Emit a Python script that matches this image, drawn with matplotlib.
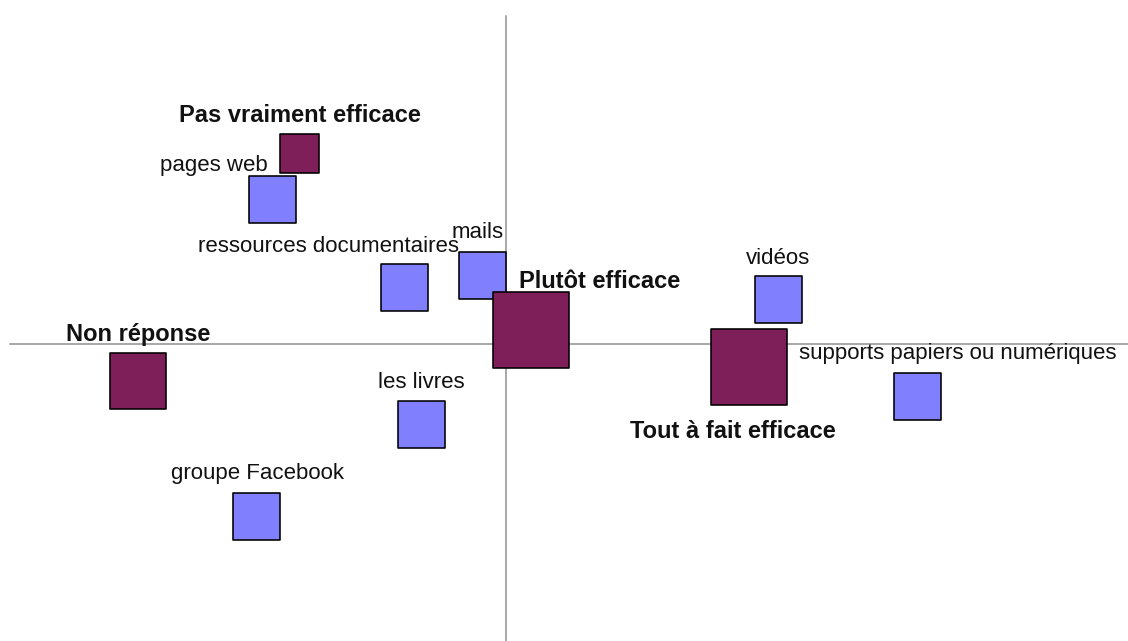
import matplotlib
matplotlib.use("Agg")
import matplotlib.pyplot as plt

plt.rcParams['font.family'] = ['Liberation Sans', 'DejaVu Sans']

# Column categories (modalities of efficacy) - dark squares
col_labels = ["Pas vraiment efficace", "Plutôt efficace", "Tout à fait efficace", "Non réponse"]
col_x = [-0.515, 0.0625, 0.6075, -0.92]
col_y = [0.4775, 0.035, -0.0575, -0.0925]
col_size_px = [39, 76, 76, 56]

# Row categories (resources) - blue squares
row_labels = ["pages web", "ressources documentaires", "mails", "vidéos",
              "supports papiers ou numériques", "les livres", "groupe Facebook"]
row_x = [-0.5825, -0.2525, -0.0575, 0.68, 1.0275, -0.21, -0.6225]
row_y = [0.3625, 0.1425, 0.1725, 0.1125, -0.13, -0.2, -0.43]
row_size_px = [47, 47, 47, 47, 47, 47, 47]

# label offsets in pixels (dx, dy screen) and alignment
col_offsets = [(0, 38, 'center'), (-12, 49, 'left'), (-16, -65, 'center'), (0, 47, 'center')]
row_offsets = [(-5, 34, 'right'), (-76, 40, 'center'), (-5, 43, 'center'), (0, 41, 'center'),
               (41, 42, 'center'), (-1, 41, 'center'), (1, 42, 'center')]

W, H, DPI = 1128, 641, 100
fig = plt.figure(figsize=(W / DPI, H / DPI), dpi=DPI)
ax = fig.add_axes([0, 0, 1, 1])
scale = 400.0
ax.set_xlim(-506 / scale, (W - 506) / scale)
ax.set_ylim(-(H - 344) / scale, 344 / scale)
ax.axis('off')

pt = 72.0 / DPI
ax.axvline(0, ymin=0, ymax=1 - 16 / H, color='#8f8f8f', lw=1.5 * pt, zorder=1)
ax.axhline(0, xmin=10 / W, xmax=1, color='#8f8f8f', lw=1.5 * pt, zorder=1)

ax.scatter(row_x, row_y, s=[(s * pt) ** 2 for s in row_size_px], marker='s',
           facecolor='#8080FF', edgecolor='black', linewidths=1.6 * pt, zorder=3)
ax.scatter(col_x, col_y, s=[(s * pt) ** 2 for s in col_size_px], marker='s',
           facecolor='#7F1F5A', edgecolor='black', linewidths=1.6 * pt, zorder=4)

for lab, x, y, (dx, dy, ha) in zip(row_labels, row_x, row_y, row_offsets):
    ax.annotate(lab, (x, y), xytext=(dx * pt, dy * pt), textcoords='offset points',
                ha=ha, va='center', fontsize=16, color='#111111', zorder=5)
for lab, x, y, (dx, dy, ha) in zip(col_labels, col_x, col_y, col_offsets):
    ax.annotate(lab, (x, y), xytext=(dx * pt, dy * pt), textcoords='offset points',
                ha=ha, va='center', fontsize=17, fontweight='bold', color='#111111', zorder=5)

fig.savefig("out.png", dpi=DPI)
